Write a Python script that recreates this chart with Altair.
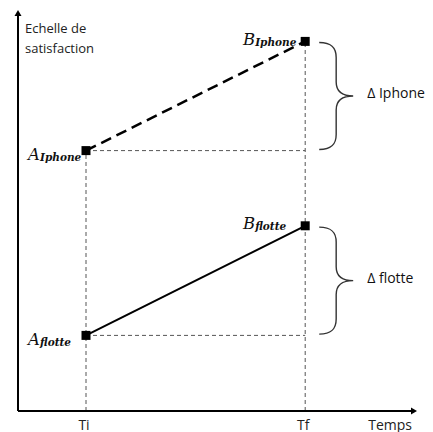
import altair as alt
import pandas as pd

# ---- data ----
time_labels = ["Ti", "Tf"]
time_values = [1.7, 7.18]
series_names = ["Iphone", "flotte"]
start_values = [6.51, 1.89]   # A points, at Ti
end_values = [9.24, 4.63]     # B points, at Tf
delta_labels = ["Δ Iphone", "Δ flotte"]
y_title = ["Echelle de", "satisfaction"]
x_title = "Temps"
x_axis_end = 9.9
y_axis_end = 9.95

ti, tf = time_values

points = pd.DataFrame({
    "series": series_names * 2,
    "t": [ti, ti, tf, tf],
    "v": start_values + end_values,
    "letter": ["A", "A", "B", "B"],
    "sub": series_names * 2,
})
braces = pd.DataFrame({
    "series": series_names,
    "t": [tf, tf],
    "mid": [(a + b) / 2 for a, b in zip(start_values, end_values)],
    "label": delta_labels,
})
vguides = pd.DataFrame({"t": time_values, "v0": [0, 0], "v1": [max(start_values), max(end_values)]})
hguides = pd.DataFrame({"t0": [ti, ti], "t1": [tf, tf], "v": start_values})
ticks = pd.DataFrame({"t": time_values, "label": time_labels, "v": [0, 0]})
axes_x = pd.DataFrame({"t0": [0], "t1": [x_axis_end], "v": [0]})
axes_y = pd.DataFrame({"t": [0], "v0": [0], "v1": [y_axis_end]})
arrows = pd.DataFrame({"t": [0, x_axis_end], "v": [y_axis_end, 0], "shape": ["triangle-up", "triangle-right"]})
title_x = pd.DataFrame({"t": [x_axis_end], "v": [0], "label": [x_title]})
title_y = pd.DataFrame({"t": [0], "v": [y_axis_end], "label": [y_title]})

XS = alt.Scale(domain=[-0.25, 10.175], nice=False, zero=False)
YS = alt.Scale(domain=[-0.525, 10.075], nice=False, zero=False)

def X(f):
    return alt.X(f, type="quantitative", scale=XS, axis=None)

def Y(f):
    return alt.Y(f, type="quantitative", scale=YS, axis=None)

SERIF = "DejaVu Serif"
SANS = "Open Sans"

guide_v = alt.Chart(vguides).mark_rule(color="#555", strokeWidth=1, strokeDash=[4, 3]).encode(
    x=X("t"), y=Y("v0"), y2="v1")
guide_h = alt.Chart(hguides).mark_rule(color="#555", strokeWidth=1, strokeDash=[4, 3]).encode(
    x=X("t0"), x2="t1", y=Y("v"))

axis_x = alt.Chart(axes_x).mark_rule(color="black", strokeWidth=2).encode(x=X("t0"), x2="t1", y=Y("v"))
axis_y = alt.Chart(axes_y).mark_rule(color="black", strokeWidth=2).encode(x=X("t"), y=Y("v0"), y2="v1")
arrow = alt.Chart(arrows).mark_point(filled=True, color="black", size=49, opacity=1).encode(
    x=X("t"), y=Y("v"), shape=alt.Shape("shape:N", scale=None, legend=None))

line_i = alt.Chart(points).transform_filter(alt.datum.series == "Iphone").mark_line(
    color="black", strokeWidth=2.5, strokeDash=[11, 6]).encode(x=X("t"), y=Y("v"))
line_f = alt.Chart(points).transform_filter(alt.datum.series == "flotte").mark_line(
    color="black", strokeWidth=2).encode(x=X("t"), y=Y("v"))

squares = alt.Chart(points).mark_square(color="black", size=81, opacity=1).encode(x=X("t"), y=Y("v"))

a_main = alt.Chart(points).transform_filter(alt.datum.letter == "A").mark_text(
    align="right", dx=-46, dy=4.5, font=SERIF, fontStyle="italic", fontSize=16.5, color="#111").encode(
    x=X("t"), y=Y("v"), text="letter:N")
a_sub = alt.Chart(points).transform_filter(alt.datum.letter == "A").mark_text(
    align="left", dx=-46, dy=7.5, font=SERIF, fontStyle="italic", fontWeight="bold", fontSize=10.5, color="#111").encode(
    x=X("t"), y=Y("v"), text="sub:N")
b_main = alt.Chart(points).transform_filter(alt.datum.letter == "B").mark_text(
    align="right", dx=-50, dy=-1.5, font=SERIF, fontStyle="italic", fontSize=16.5, color="#111").encode(
    x=X("t"), y=Y("v"), text="letter:N")
b_sub = alt.Chart(points).transform_filter(alt.datum.letter == "B").mark_text(
    align="left", dx=-50, dy=1.5, font=SERIF, fontStyle="italic", fontWeight="bold", fontSize=10.5, color="#111").encode(
    x=X("t"), y=Y("v"), text="sub:N")

BRACE = ("M 0.262 -1 C 0.5 -1 0.579 -0.9 0.579 -0.72 L 0.579 -0.26 "
         "C 0.579 -0.08 0.7 0 0.897 0 C 0.7 0 0.579 0.08 0.579 0.26 "
         "L 0.579 0.72 C 0.579 0.9 0.5 1 0.262 1")
brace = alt.Chart(braces).mark_point(shape=BRACE, size=11449, filled=False, color="#333",
                                     strokeWidth=1.4, opacity=1).encode(x=X("t"), y=Y("mid"))
brace_lbl = alt.Chart(braces).mark_text(align="left", baseline="middle", dx=62, dy=-2, font=SANS,
                                        fontSize=14, color="#111").encode(x=X("t"), y=Y("mid"), text="label:N")

tick_lbl = alt.Chart(ticks).mark_text(align="center", dx=-2, dy=15, font=SANS, fontSize=14,
                                      color="#222").encode(x=X("t"), y=Y("v"), text="label:N")
xt = alt.Chart(title_x).mark_text(align="right", dx=-2, dy=15, font=SANS, fontSize=14,
                                  color="#222").encode(x=X("t"), y=Y("v"), text="label:N")
yt = alt.Chart(title_y).mark_text(align="left", dx=7, dy=16, font=SANS, fontSize=13, lineHeight=20,
                                  color="#222").encode(x=X("t"), y=Y("v"), text="label")

chart = alt.layer(
    guide_v, guide_h, axis_x, axis_y, arrow, line_i, line_f, squares,
    a_main, a_sub, b_main, b_sub, brace, brace_lbl, tick_lbl, xt, yt,
).properties(
    width=417, height=424, padding=0, autosize=alt.AutoSizeParams(type="none"),
).configure_view(stroke=None)

chart.save("out.html", embed_options={"renderer": "svg", "actions": False})
